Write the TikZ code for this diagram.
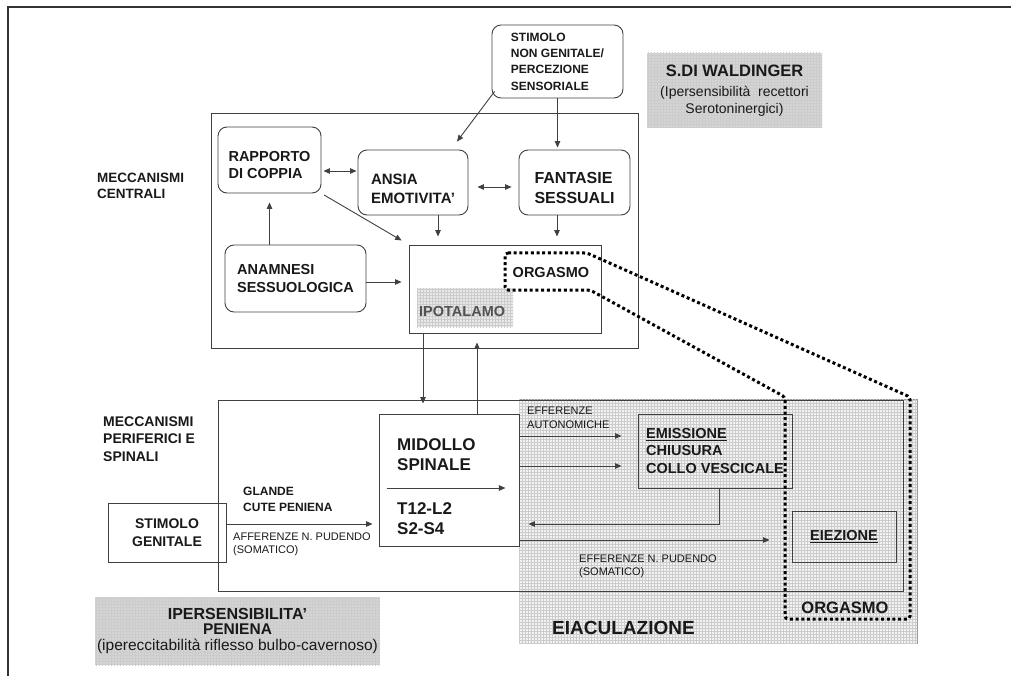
\documentclass[tikz,border=0pt]{standalone}
\usepackage{fontspec}
\setmainfont{Liberation Sans}
\usetikzlibrary{arrows.meta,patterns,calc}
\newcommand\fz[2]{\fontsize{#1}{#2}\selectfont}
% extra height on a first line pushes a centred text block downwards
\newcommand\padtop[1]{\rule{0pt}{#1}}
\begin{document}
\begin{tikzpicture}[x=1pt,y=-1pt,
  >={Triangle[length=6.5pt,width=5.5pt]},
  ln/.style={draw=black!75,line width=0.9pt},
  arr/.style={ln,->},
  darr/.style={ln,<->},
  box/.style={ln,rectangle,inner sep=0pt,text=black!90},
  rbox/.style={box,rounded corners=9pt},
  hatch/.style={fill=#1,postaction={pattern=grid,pattern color=black!20}},
  txt/.style={inner sep=0pt,align=left,text=black!90},
  dots/.style={line width=3pt,dash pattern=on 3pt off 2.7pt,rounded corners=3pt}]
\useasboundingbox (0,0) rectangle (1011,676);
\draw[black!80,line width=1.5pt] (8,676) -- (8,7) -- (1011,7);

% shaded panels
\node[box,hatch=black!5,draw=black!40,minimum width=398pt,minimum height=244pt] (eiac) at (718,521) {};
\node[box,hatch=black!17,draw=none,minimum width=175pt,minimum height=75pt,align=center,font=\fz{14}{16.5}] (wald) at (734.5,90.5)
  {{\bfseries\fz{16.5}{20}S.DI WALDINGER}\\[3.5pt](Ipersensibilità~~recettori\\Serotoninergici)};
\node[box,hatch=black!17,draw=none,minimum width=285pt,minimum height=68pt,align=center,font=\fz{15.5}{15.5}] (ipers) at (237.5,631)
  {{\bfseries\fz{16}{15.5}IPERSENSIBILITA'}\\{\bfseries PENIENA}\\(ipereccitabilità riflesso bulbo-cavernoso)};

% central and peripheral frames
\node[box,minimum width=427pt,minimum height=235pt] (central) at (424.5,230.5) {};
\node[box,minimum width=685pt,minimum height=191pt] (periph) at (560.5,495.5) {};

% section titles
\node[txt,font=\bfseries\fz{13.5}{15.5},anchor=north west] (centT) at (97,173) {MECCANISMI\\CENTRALI};
\node[txt,font=\bfseries\fz{14}{17.5},anchor=north west] (perT) at (103,416.5) {MECCANISMI\\PERIFERICI E\\SPINALI};

% central mechanisms
\node[rbox,minimum width=131pt,minimum height=73pt,align=left,font=\bfseries\fz{12}{16.3}] (stimNG) at (557.5,61.5)
  {STIMOLO\\NON GENITALE/\\PERCEZIONE\\SENSORIALE};
\node[rbox,minimum width=103pt,minimum height=66pt,align=left,font=\bfseries\fz{14.5}{16.5}] (rapp) at (269.5,160)
  {\padtop{20pt}RAPPORTO\\DI COPPIA};
\node[rbox,minimum width=110pt,minimum height=65pt,align=left,font=\bfseries\fz{15}{18.5}] (ansia) at (413,182.5)
  {\padtop{22.7pt}ANSIA\\EMOTIVITA'};
\node[rbox,minimum width=111pt,minimum height=65pt,align=left,font=\bfseries\fz{16}{20}] (fant) at (574.5,182.5)
  {\padtop{21.5pt}FANTASIE\\SESSUALI};
\node[rbox,minimum width=141pt,minimum height=67pt,align=left,font=\bfseries\fz{14.5}{18.5}] (anam) at (295.5,278.5)
  {ANAMNESI\\SESSUOLOGICA};
\node[box,minimum width=192pt,minimum height=88pt] (ipot) at (505,289) {};
\node[draw=none,hatch=black!9,minimum width=96pt,minimum height=39pt,inner sep=0pt] (ipotS) at (465,307.5) {};
\node[txt,font=\bfseries\fz{14.5}{17},text=black!68,anchor=west] (ipotT) at (419,312) {IPOTALAMO};
\node[txt,font=\bfseries\fz{14.5}{17}] (orgT) at (551,273) {ORGASMO};

% peripheral and spinal mechanisms
\node[box,minimum width=140pt,minimum height=132pt] (midollo) at (449,480) {};
\node[txt,font=\bfseries\fz{17}{20},anchor=north west] (midT) at (397,438) {MIDOLLO\\SPINALE};
\node[txt,font=\bfseries\fz{17}{20},anchor=north west] (midL) at (397,502) {T12-L2\\S2-S4};
\node[box,minimum width=118pt,minimum height=59pt,align=center,font=\bfseries\fz{14}{18.5}] (stimG) at (167,532.5) {STIMOLO\\GENITALE};
\node[txt,font=\bfseries\fz{12}{16},anchor=north west] (glande) at (243,487) {GLANDE\\CUTE PENIENA};
\node[txt,font=\fz{11}{12.5},anchor=north west] (aff) at (233,533) {AFFERENZE N. PUDENDO\\(SOMATICO)};
\node[txt,font=\fz{11}{14},anchor=north west] (effA) at (527,406.5) {EFFERENZE\\AUTONOMICHE};
\node[box,minimum width=154pt,minimum height=74pt,align=left,font=\bfseries\fz{14.5}{17.5}] (emis) at (715,451)
  {\underline{EMISSIONE}\\CHIUSURA\\COLLO VESCICALE};
\node[txt,font=\fz{11}{13},anchor=north west] (effP) at (579,555) {EFFERENZE N. PUDENDO\\(SOMATICO)};
\node[box,minimum width=104pt,minimum height=51pt,font=\bfseries\fz{14.5}{17}] (eiez) at (844,536.5) {\underline{EIEZIONE}};
\node[txt,font=\bfseries\fz{16.5}{20}] (orgB) at (845,608) {ORGASMO};
\node[txt,font=\bfseries\fz{19}{22},anchor=west] (eiacT) at (552,628) {EIACULAZIONE};

% connectors, central part
\draw[arr] ([shift={(3pt,7pt)}]stimNG.south west) -- ([shift={(44pt,8pt)}]ansia.north);
\draw[arr,shorten >=2pt] (stimNG.south) -- (stimNG.south |- fant.north);
\draw[darr,shorten <=2pt,shorten >=1pt] ([yshift=-11pt]rapp.east) -- ([yshift=-11pt]rapp.east -| ansia.west);
\draw[darr,shorten <=9pt,shorten >=7pt] ([yshift=-4.5pt]ansia.east) -- ([yshift=-4.5pt]ansia.east -| fant.west);
\draw[arr,shorten >=8pt] ([xshift=25pt]ansia.south) -- ([xshift=25pt]ansia.south |- ipot.north);
\draw[arr,shorten >=8pt] ([xshift=-17.5pt]fant.south) -- ([xshift=-17.5pt]fant.south |- ipot.north);
\draw[arr,shorten <=3pt,shorten >=8pt] (rapp.south east) -- (ipot.north west);
\draw[arr,shorten >=9pt] (anam.north -| rapp.south) -- (rapp.south);
\draw[arr,shorten >=7pt] ([yshift=-3.5pt]anam.east) -- ([yshift=-3.5pt]anam.east -| ipot.west);

% connectors between the two levels
\draw[arr,shorten >=10pt] ([xshift=-82pt]ipot.south) -- ([xshift=-82pt]ipot.south |- midollo.north);
\draw[arr,shorten >=9pt] ([xshift=28pt]midollo.north) -- ([xshift=28pt]midollo.north |- ipot.south);

% connectors, peripheral part
\draw[arr,shorten >=6pt] ([yshift=8.5pt]stimG.east) -- ([yshift=8.5pt]stimG.east -| midollo.west);
\coordinate (inA) at ([shift={(8pt,-8pt)}]midollo.west);
\coordinate (inB) at ([shift={(-14pt,-8pt)}]midollo.east);
\draw[arr] (inA) -- (inB);
\draw[arr,shorten >=16pt] ([yshift=44pt]midollo.east) -- ([yshift=44pt]midollo.east -| emis.west);
\draw[arr,shorten >=16pt] ([yshift=14pt]midollo.east) -- ([yshift=14pt]midollo.east -| emis.west);
\draw[arr,shorten >=9pt] ([xshift=4pt]emis.south) |- ([yshift=-44pt]midollo.east);
\draw[arr,shorten >=22pt] ([yshift=-60pt]midollo.east) -- ([yshift=-60pt]midollo.east -| eiez.west);

% dotted outline of the orgasm area
\draw[dots] (505,253) -- (587,253) -- (910,397) -- (910,619) -- (785,619) -- (785,397) -- (590,290) -- (505,290) -- cycle;
\end{tikzpicture}
\end{document}
